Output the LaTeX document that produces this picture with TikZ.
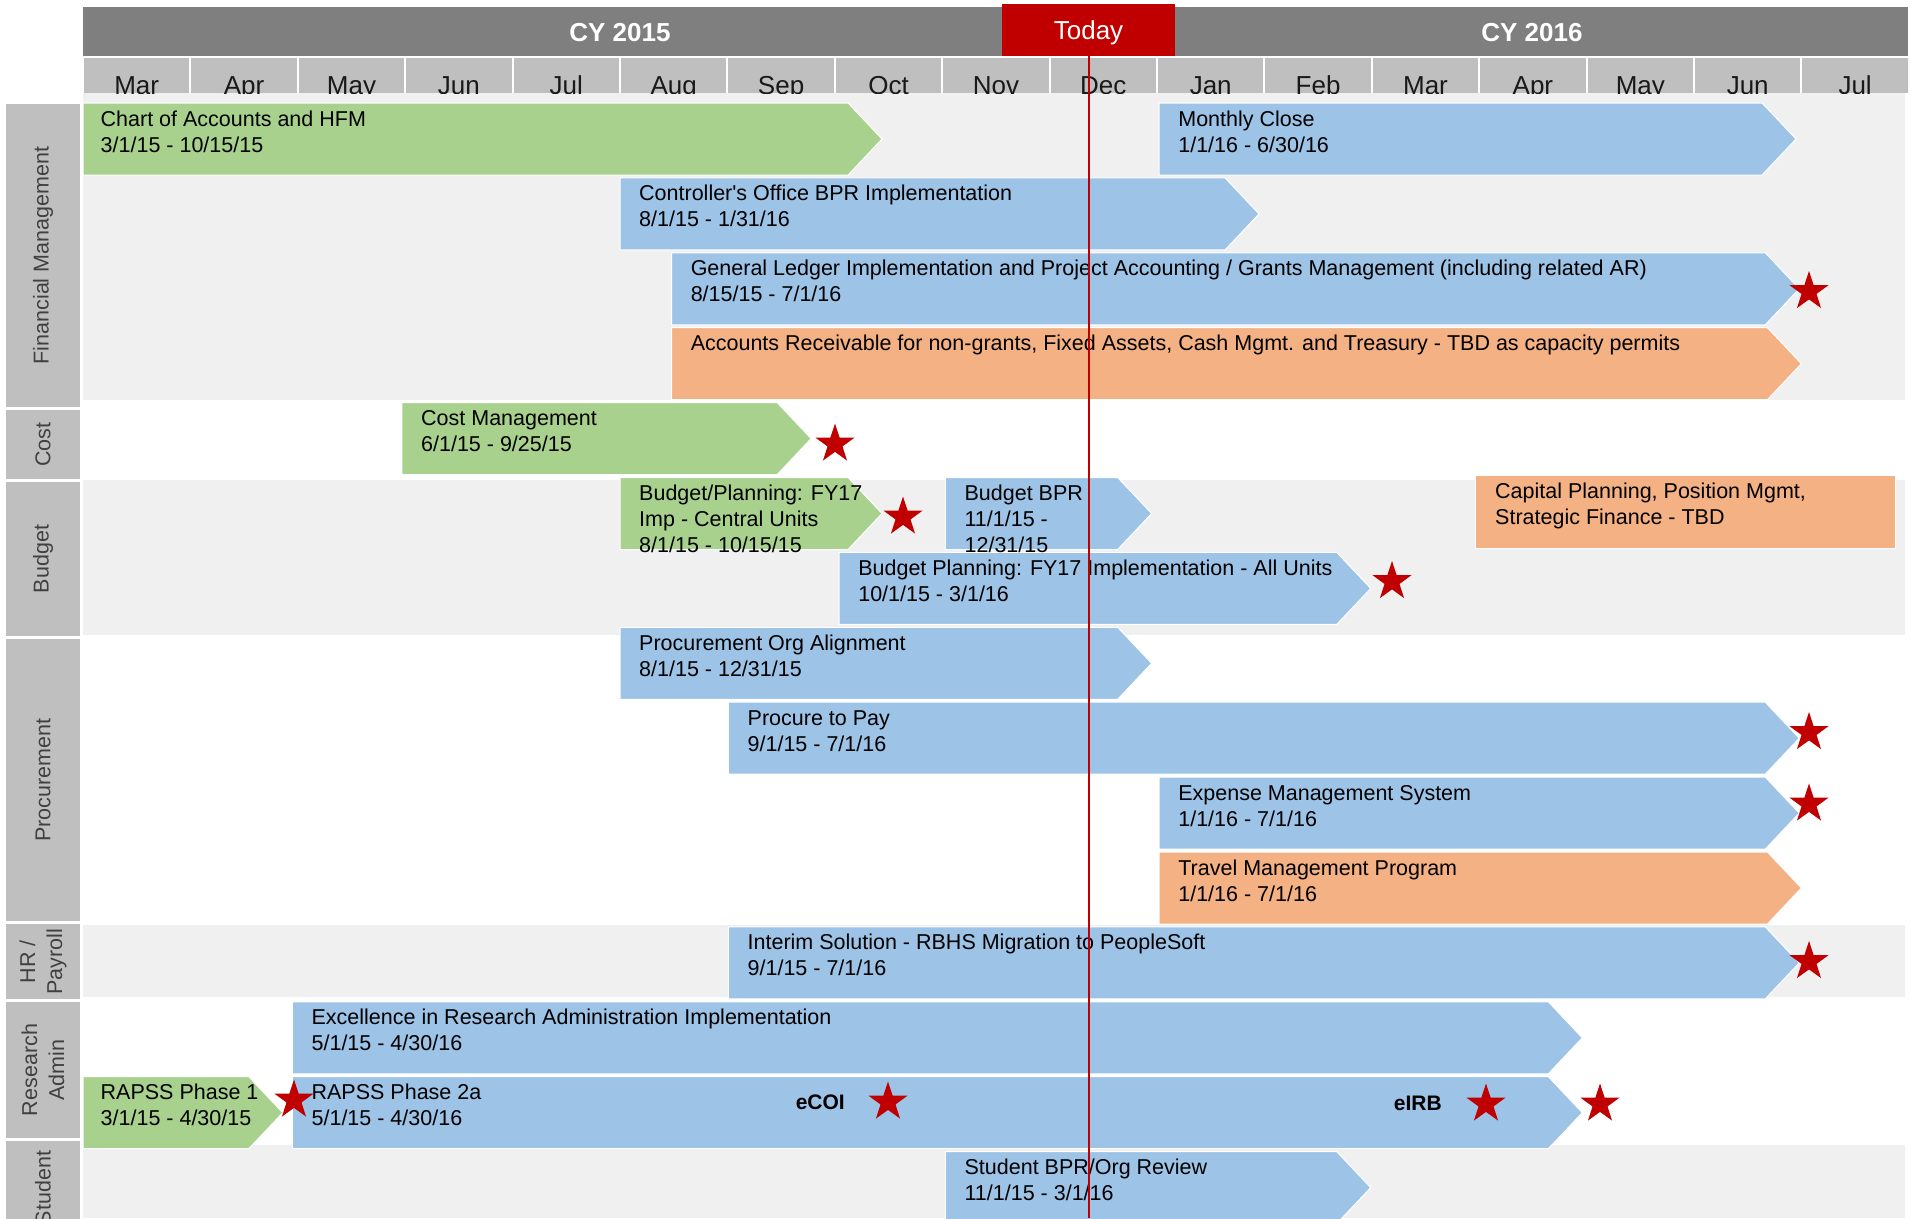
\documentclass[tikz,border=0pt]{standalone}
\usepackage{fontspec}
\setmainfont{Liberation Sans}
\usetikzlibrary{shapes.geometric}
\definecolor{barGreen}{HTML}{A9D18E}
\definecolor{barBlue}{HTML}{9DC3E6}
\definecolor{barOrange}{HTML}{F4B183}
\definecolor{hdrGray}{HTML}{7F7F7F}
\definecolor{cellGray}{HTML}{BFBFBF}
\definecolor{bandGray}{HTML}{F0F0F0}
\definecolor{todayRed}{HTML}{C00000}
\tikzset{
  greenbar/.style  = {fill=barGreen, draw=white, line width=1pt},
  bluebar/.style   = {fill=barBlue, draw=white, line width=1pt},
  orangebar/.style = {fill=barOrange, draw=white, line width=1pt},
  task/.style      = {anchor=base west, inner sep=0pt,
                      font=\fontsize{21.5}{26}\selectfont},
  tag/.style       = {anchor=base east, inner sep=0pt,
                      font=\bfseries\fontsize{21}{26}\selectfont},
  month/.style     = {anchor=base, inner sep=0pt, text=black!90,
                      font=\fontsize{26}{30}\selectfont},
  year/.style      = {anchor=base, inner sep=0pt, text=white,
                      font=\bfseries\fontsize{26}{30}\selectfont},
  catbox/.style    = {fill=cellGray, rotate=90, align=center, inner sep=0pt,
                      minimum height=74pt, text=black!75,
                      font=\fontsize{21.5}{27}\selectfont},
  todaybox/.style  = {fill=todayRed, text=white, inner sep=0pt,
                      minimum width=173pt, minimum height=52pt,
                      text height=18.6pt, text depth=0pt,
                      font=\fontsize{26}{30}\selectfont},
  todayline/.style = {draw=todayRed, line width=2pt},
  milestone/.style = {star, star points=5, star point ratio=2.6,
                      fill=todayRed, minimum size=41pt, inner sep=0pt}
}

\begin{document}
\begin{tikzpicture}[x=1pt, y=-1pt]
	\def\xo{83}     % 1 Mar 2015
	\def\mo{107.4}  % one month
	\def\yo{103}    % top of first bar row
	\def\sp{74.9}   % row pitch
	\def\bh{72}     % bar height
	\def\tip{34}    % depth of the point
	\def\tx{19}     % text inset
	\def\tb{23}     % first baseline

	\path[use as bounding box] (0,0) rectangle (1911,1218);
	\clip (0,0) rectangle (1911,1218);

	% Bands
	\fill[bandGray] (\xo,93) rectangle (1905,400);   % Financial Management
	\fill[bandGray] (\xo,480) rectangle (1905,635);  % Budget
	\fill[bandGray] (\xo,925) rectangle (1905,997);  % HR / Payroll
	\fill[bandGray] (\xo,1145) rectangle (1905,1218); % Student

	% Categories
	\node[catbox, minimum width=303pt] (fm) at (43,255.5) {Financial Management};
	\node[catbox, minimum width=69pt] (cost) at (43,444.5) {Cost};
	\node[catbox, minimum width=154pt] (budget) at (43,559) {Budget};
	\node[catbox, minimum width=282pt] (proc) at (43,780) {Procurement};
	\node[catbox, minimum width=75pt] (hr) at (43,961.5) {HR /\\Payroll};
	\node[catbox, minimum width=136pt] (ra) at (43,1070) {Research\\Admin};
	\node[catbox, minimum width=94pt] (student) at (43,1188) {Student};

	% Header
	\fill[hdrGray] (\xo,7) rectangle (1908,56);
	\node[year] (cy15) at (620,41.5) {CY 2015};
	\node[year] (cy16) at (1532,41.5) {CY 2016};
	\node[todaybox] (today) at (1088.5,30) {Today};

	% Months
	\begin{scope}
	\clip (\xo,58) rectangle (1908,93);
	\fill[cellGray] (\xo+0*\mo+1,58) rectangle (\xo+1*\mo-1,93);   \node[month] (m0) at (\xo+0.5*\mo,94.5) {Mar};
	\fill[cellGray] (\xo+1*\mo+1,58) rectangle (\xo+2*\mo-1,93);   \node[month] (m1) at (\xo+1.5*\mo,94.5) {Apr};
	\fill[cellGray] (\xo+2*\mo+1,58) rectangle (\xo+3*\mo-1,93);   \node[month] (m2) at (\xo+2.5*\mo,94.5) {May};
	\fill[cellGray] (\xo+3*\mo+1,58) rectangle (\xo+4*\mo-1,93);   \node[month] (m3) at (\xo+3.5*\mo,94.5) {Jun};
	\fill[cellGray] (\xo+4*\mo+1,58) rectangle (\xo+5*\mo-1,93);   \node[month] (m4) at (\xo+4.5*\mo,94.5) {Jul};
	\fill[cellGray] (\xo+5*\mo+1,58) rectangle (\xo+6*\mo-1,93);   \node[month] (m5) at (\xo+5.5*\mo,94.5) {Aug};
	\fill[cellGray] (\xo+6*\mo+1,58) rectangle (\xo+7*\mo-1,93);   \node[month] (m6) at (\xo+6.5*\mo,94.5) {Sep};
	\fill[cellGray] (\xo+7*\mo+1,58) rectangle (\xo+8*\mo-1,93);   \node[month] (m7) at (\xo+7.5*\mo,94.5) {Oct};
	\fill[cellGray] (\xo+8*\mo+1,58) rectangle (\xo+9*\mo-1,93);   \node[month] (m8) at (\xo+8.5*\mo,94.5) {Nov};
	\fill[cellGray] (\xo+9*\mo+1,58) rectangle (\xo+10*\mo-1,93);  \node[month] (m9) at (\xo+9.5*\mo,94.5) {Dec};
	\fill[cellGray] (\xo+10*\mo+1,58) rectangle (\xo+11*\mo-1,93); \node[month] (m10) at (\xo+10.5*\mo,94.5) {Jan};
	\fill[cellGray] (\xo+11*\mo+1,58) rectangle (\xo+12*\mo-1,93); \node[month] (m11) at (\xo+11.5*\mo,94.5) {Feb};
	\fill[cellGray] (\xo+12*\mo+1,58) rectangle (\xo+13*\mo-1,93); \node[month] (m12) at (\xo+12.5*\mo,94.5) {Mar};
	\fill[cellGray] (\xo+13*\mo+1,58) rectangle (\xo+14*\mo-1,93); \node[month] (m13) at (\xo+13.5*\mo,94.5) {Apr};
	\fill[cellGray] (\xo+14*\mo+1,58) rectangle (\xo+15*\mo-1,93); \node[month] (m14) at (\xo+14.5*\mo,94.5) {May};
	\fill[cellGray] (\xo+15*\mo+1,58) rectangle (\xo+16*\mo-1,93); \node[month] (m15) at (\xo+15.5*\mo,94.5) {Jun};
	\fill[cellGray] (\xo+16*\mo+1,58) rectangle (\xo+17*\mo,93);   \node[month] (m16) at (\xo+16.5*\mo,94.5) {Jul};
	\end{scope}

	% Bars
	\fill[greenbar] (\xo+0*\mo,\yo+0*\sp) -- ++(7.44*\mo-\tip,0) -- ++(\tip,\bh/2) -- ++(-\tip,\bh/2) -- ++(-7.44*\mo+\tip,0) -- cycle; % Chart of Accounts
	\fill[bluebar] (\xo+10.02*\mo,\yo+0*\sp) -- ++(5.93*\mo-\tip,0) -- ++(\tip,\bh/2) -- ++(-\tip,\bh/2) -- ++(-5.93*\mo+\tip,0) -- cycle; % Monthly Close
	\fill[bluebar] (\xo+5*\mo,\yo+1*\sp) -- ++(5.95*\mo-\tip,0) -- ++(\tip,\bh/2) -- ++(-\tip,\bh/2) -- ++(-5.95*\mo+\tip,0) -- cycle; % Controller's Office
	\fill[bluebar] (\xo+5.48*\mo,\yo+2*\sp) -- ++(10.5*\mo-\tip,0) -- ++(\tip,\bh/2) -- ++(-\tip,\bh/2) -- ++(-10.5*\mo+\tip,0) -- cycle; % General Ledger
	\fill[orangebar] (\xo+5.48*\mo,\yo+3*\sp) -- ++(10.52*\mo-\tip,0) -- ++(\tip,\bh/2) -- ++(-\tip,\bh/2) -- ++(-10.52*\mo+\tip,0) -- cycle; % Accounts Receivable
	\fill[greenbar] (\xo+2.97*\mo,\yo+4*\sp) -- ++(3.81*\mo-\tip,0) -- ++(\tip,\bh/2) -- ++(-\tip,\bh/2) -- ++(-3.81*\mo+\tip,0) -- cycle; % Cost Management
	\fill[greenbar] (\xo+5*\mo,\yo+5*\sp) -- ++(2.44*\mo-\tip,0) -- ++(\tip,\bh/2) -- ++(-\tip,\bh/2) -- ++(-2.44*\mo+\tip,0) -- cycle; % Budget central units
	\fill[bluebar] (\xo+8.03*\mo,\yo+5*\sp) -- ++(1.92*\mo-\tip,0) -- ++(\tip,\bh/2) -- ++(-\tip,\bh/2) -- ++(-1.92*\mo+\tip,0) -- cycle; % Budget BPR
	\fill[orangebar] (1475,475) rectangle (1895,548); % Capital Planning
	\fill[bluebar] (\xo+7.04*\mo,\yo+6*\sp) -- ++(4.95*\mo-\tip,0) -- ++(\tip,\bh/2) -- ++(-\tip,\bh/2) -- ++(-4.95*\mo+\tip,0) -- cycle; % Budget all units
	\fill[bluebar] (\xo+5*\mo,\yo+7*\sp) -- ++(4.95*\mo-\tip,0) -- ++(\tip,\bh/2) -- ++(-\tip,\bh/2) -- ++(-4.95*\mo+\tip,0) -- cycle; % Procurement Org
	\fill[bluebar] (\xo+6.01*\mo,\yo+8*\sp) -- ++(9.97*\mo-\tip,0) -- ++(\tip,\bh/2) -- ++(-\tip,\bh/2) -- ++(-9.97*\mo+\tip,0) -- cycle; % Procure to Pay
	\fill[bluebar] (\xo+10.02*\mo,\yo+9*\sp) -- ++(5.96*\mo-\tip,0) -- ++(\tip,\bh/2) -- ++(-\tip,\bh/2) -- ++(-5.96*\mo+\tip,0) -- cycle; % Expense Mgmt
	\fill[orangebar] (\xo+10.02*\mo,\yo+10*\sp) -- ++(5.98*\mo-\tip,0) -- ++(\tip,\bh/2) -- ++(-\tip,\bh/2) -- ++(-5.98*\mo+\tip,0) -- cycle; % Travel Mgmt
	\fill[bluebar] (\xo+6.01*\mo,\yo+11*\sp) -- ++(9.97*\mo-\tip,0) -- ++(\tip,\bh/2) -- ++(-\tip,\bh/2) -- ++(-9.97*\mo+\tip,0) -- cycle; % Interim Solution
	\fill[bluebar] (\xo+1.95*\mo,\yo+12*\sp) -- ++(12.01*\mo-\tip,0) -- ++(\tip,\bh/2) -- ++(-\tip,\bh/2) -- ++(-12.01*\mo+\tip,0) -- cycle; % Excellence
	\fill[greenbar] (\xo+0*\mo,\yo+13*\sp) -- ++(1.86*\mo-\tip,0) -- ++(\tip,\bh/2) -- ++(-\tip,\bh/2) -- ++(-1.86*\mo+\tip,0) -- cycle; % RAPSS 1
	\fill[bluebar] (\xo+1.95*\mo,\yo+13*\sp) -- ++(12.01*\mo-\tip,0) -- ++(\tip,\bh/2) -- ++(-\tip,\bh/2) -- ++(-12.01*\mo+\tip,0) -- cycle; % RAPSS 2a
	\fill[bluebar] (\xo+8.03*\mo,\yo+14*\sp) -- ++(3.96*\mo-\tip,0) -- ++(\tip,\bh/2) -- ++(-\tip,\bh/2) -- ++(-3.96*\mo+\tip,0) -- cycle; % Student BPR

	% Texts
	\node[task] (coa) at (\xo+0*\mo+\tx-1.5,\yo+0*\sp+\tb) {Chart of Accounts and HFM};
	\node[task] (coa-d) at ([yshift=-26pt]coa.base west) {3/1/15 - 10/15/15};
	\node[task] (mc) at (\xo+10.02*\mo+\tx,\yo+0*\sp+\tb) {Monthly Close};
	\node[task] (mc-d) at ([yshift=-26pt]mc.base west) {1/1/16 - 6/30/16};
	\node[task] (cobpr) at (\xo+5*\mo+\tx,\yo+1*\sp+\tb) {Controller\textquotesingle s Office BPR Implementation};
	\node[task] (cobpr-d) at ([yshift=-26pt]cobpr.base west) {8/1/15 - 1/31/16};
	\node[task] (gl) at (\xo+5.48*\mo+\tx,\yo+2*\sp+\tb) {General Ledger Implementation and Project Accounting / Grants Management (including related AR)};
	\node[task] (gl-d) at ([yshift=-26pt]gl.base west) {8/15/15 - 7/1/16};
	\node[task] (ar) at (\xo+5.48*\mo+\tx,\yo+3*\sp+\tb) {Accounts Receivable for non-grants, Fixed Assets, Cash Mgmt. and Treasury - TBD as capacity permits};
	\node[task] (cm) at (\xo+2.97*\mo+\tx,\yo+4*\sp+\tb) {Cost Management};
	\node[task] (cm-d) at ([yshift=-26pt]cm.base west) {6/1/15 - 9/25/15};
	\node[task] (bpc) at (\xo+5*\mo+\tx,\yo+5*\sp+\tb) {Budget/Planning: FY17};
	\node[task] (bpc-2) at ([yshift=-26pt]bpc.base west) {Imp - Central Units};
	\node[task] (bpc-d) at ([yshift=-26pt]bpc-2.base west) {8/1/15 - 10/15/15};
	\node[task] (bbpr) at (\xo+8.03*\mo+\tx,\yo+5*\sp+\tb) {Budget BPR};
	\node[task] (bbpr-2) at ([yshift=-26pt]bbpr.base west) {11/1/15 -};
	\node[task] (bbpr-d) at ([yshift=-26pt]bbpr-2.base west) {12/31/15};
	\node[task] (cap) at (1475+\tx+1,475+\tb) {Capital Planning, Position Mgmt,};
	\node[task] (cap-2) at ([yshift=-26pt]cap.base west) {Strategic Finance - TBD};
	\node[task] (bpa) at (\xo+7.04*\mo+\tx,\yo+6*\sp+\tb) {Budget Planning: FY17 Implementation - All Units};
	\node[task] (bpa-d) at ([yshift=-26pt]bpa.base west) {10/1/15 - 3/1/16};
	\node[task] (poa) at (\xo+5*\mo+\tx,\yo+7*\sp+\tb) {Procurement Org Alignment};
	\node[task] (poa-d) at ([yshift=-26pt]poa.base west) {8/1/15 - 12/31/15};
	\node[task] (p2p) at (\xo+6.01*\mo+\tx,\yo+8*\sp+\tb) {Procure to Pay};
	\node[task] (p2p-d) at ([yshift=-26pt]p2p.base west) {9/1/15 - 7/1/16};
	\node[task] (ems) at (\xo+10.02*\mo+\tx,\yo+9*\sp+\tb) {Expense Management System};
	\node[task] (ems-d) at ([yshift=-26pt]ems.base west) {1/1/16 - 7/1/16};
	\node[task] (tmp) at (\xo+10.02*\mo+\tx,\yo+10*\sp+\tb) {Travel Management Program};
	\node[task] (tmp-d) at ([yshift=-26pt]tmp.base west) {1/1/16 - 7/1/16};
	\node[task] (isol) at (\xo+6.01*\mo+\tx,\yo+11*\sp+\tb) {Interim Solution - RBHS Migration to PeopleSoft};
	\node[task] (isol-d) at ([yshift=-26pt]isol.base west) {9/1/15 - 7/1/16};
	\node[task] (era) at (\xo+1.95*\mo+\tx,\yo+12*\sp+\tb) {Excellence in Research Administration Implementation};
	\node[task] (era-d) at ([yshift=-26pt]era.base west) {5/1/15 - 4/30/16};
	\node[task] (r1) at (\xo+0*\mo+\tx-1.5,\yo+13*\sp+\tb) {RAPSS Phase 1};
	\node[task] (r1-d) at ([yshift=-26pt]r1.base west) {3/1/15 - 4/30/15};
	\node[task] (r2) at (\xo+1.95*\mo+\tx,\yo+13*\sp+\tb) {RAPSS Phase 2a};
	\node[task] (r2-d) at ([yshift=-26pt]r2.base west) {5/1/15 - 4/30/16};
	\node[tag] (ecoi) at (845,1109) {eCOI};
	\node[tag] (eirb) at (1442,1110) {eIRB};
	\node[task] (sbpr) at (\xo+8.03*\mo+\tx,\yo+14*\sp+\tb) {Student BPR/Org Review};
	\node[task] (sbpr-d) at ([yshift=-26pt]sbpr.base west) {11/1/15 - 3/1/16};

	% Milestones
	\node[milestone] (s-gl) at (1809,291.5) {};
	\node[milestone] (s-cost) at (835,444) {};
	\node[milestone] (s-bpc) at (903,517) {};
	\node[milestone] (s-bpa) at (1392,581.5) {};
	\node[milestone] (s-p2p) at (1809,732.5) {};
	\node[milestone] (s-ems) at (1809,804) {};
	\node[milestone] (s-hr) at (1809,961.5) {};
	\node[milestone] (s-r1) at (294,1100) {};
	\node[milestone] (s-ecoi) at (888,1102) {};
	\node[milestone] (s-eirb) at (1486,1104) {};
	\node[milestone] (s-r2) at (1600,1104) {};

	% Today line
	\coordinate (nowend) at (1088.5,1218);
	\draw[todayline] (today.south) -- (nowend);
\end{tikzpicture}
\end{document}
